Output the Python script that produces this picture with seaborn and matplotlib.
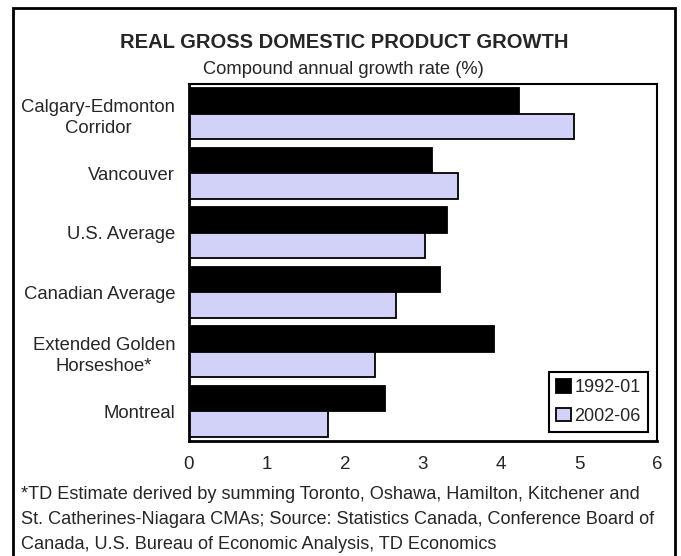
import matplotlib
matplotlib.use("Agg")
import matplotlib.pyplot as plt
import seaborn as sns
import pandas as pd
from matplotlib.patches import Rectangle

categories = ["Calgary-Edmonton\nCorridor", "Vancouver", "U.S. Average",
              "Canadian Average", "Extended Golden\nHorseshoe*", "Montreal"]
series_names = ["1992-01", "2002-06"]
vals_1992_01 = [4.23, 3.12, 3.31, 3.22, 3.91, 2.51]
vals_2002_06 = [4.94, 3.45, 3.03, 2.65, 2.38, 1.78]
xticks = [0, 1, 2, 3, 4, 5, 6]

df = pd.DataFrame({
    "region": categories * 2,
    "period": [series_names[0]] * len(categories) + [series_names[1]] * len(categories),
    "value": vals_1992_01 + vals_2002_06,
})

sns.set_theme(style="white")
plt.rcParams["font.family"] = ["Liberation Sans", "DejaVu Sans"]

W, H = 681, 556
fig = plt.figure(figsize=(6.81, 5.56), dpi=100)
ax = fig.add_axes([189/W, 1-441/H, (657-189)/W, (441-84)/H])

sns.barplot(data=df, y="region", x="value", hue="period", orient="h",
            palette=["#000000", "#CCCCFF"], edgecolor="black", linewidth=1.3,
            width=0.86, ax=ax, legend=True)

ax.set_xlim(0, 6)
ax.set_xticks(xticks)
ax.set_xticklabels([str(t) for t in xticks], fontsize=13.5)
ax.set_xlabel("")
ax.set_ylabel("")
ax.tick_params(axis="x", direction="out", length=5, width=1.5, color="black", pad=6)
ax.tick_params(axis="y", length=0, pad=10)
for lab in ax.get_yticklabels():
    lab.set_fontsize(13.3)
    lab.set_multialignment("center")
    lab.set_linespacing(1.3)
for s in ax.spines.values():
    s.set_visible(True)
    s.set_color("black")
    s.set_linewidth(1.5)
ax.spines["left"].set_linewidth(2)
ax.spines["bottom"].set_linewidth(2)

leg = ax.legend(loc="lower right", fontsize=13, frameon=True, fancybox=False,
                edgecolor="black", framealpha=1, handlelength=0.8, handleheight=0.8,
                handletextpad=0.2, borderpad=0.4, labelspacing=0.65,
                bbox_to_anchor=(0.981, 0.025), borderaxespad=0)
leg.get_frame().set_linewidth(1.5)

fig.text(344/W, 1-42/H, "REAL GROSS DOMESTIC PRODUCT GROWTH", ha="center", va="center",
         fontsize=14.5, fontweight="bold")
fig.text(343/W, 1-70/H, "Compound annual growth rate (%)", ha="center", va="center",
         fontsize=13.2)
foot = ("*TD Estimate derived by summing Toronto, Oshawa, Hamilton, Kitchener and\n"
        "St. Catherines-Niagara CMAs; Source: Statistics Canada, Conference Board of\n"
        "Canada, U.S. Bureau of Economic Analysis, TD Economics")
fig.text(21/W, 1-486/H, foot, ha="left", va="top", fontsize=13.1, linespacing=1.6)

fig.patches.append(Rectangle((13/W, -0.05), (675-13)/W, 1.05-8/H, transform=fig.transFigure,
                             fill=False, edgecolor="black", linewidth=2))

fig.savefig("out.png", dpi=100)
